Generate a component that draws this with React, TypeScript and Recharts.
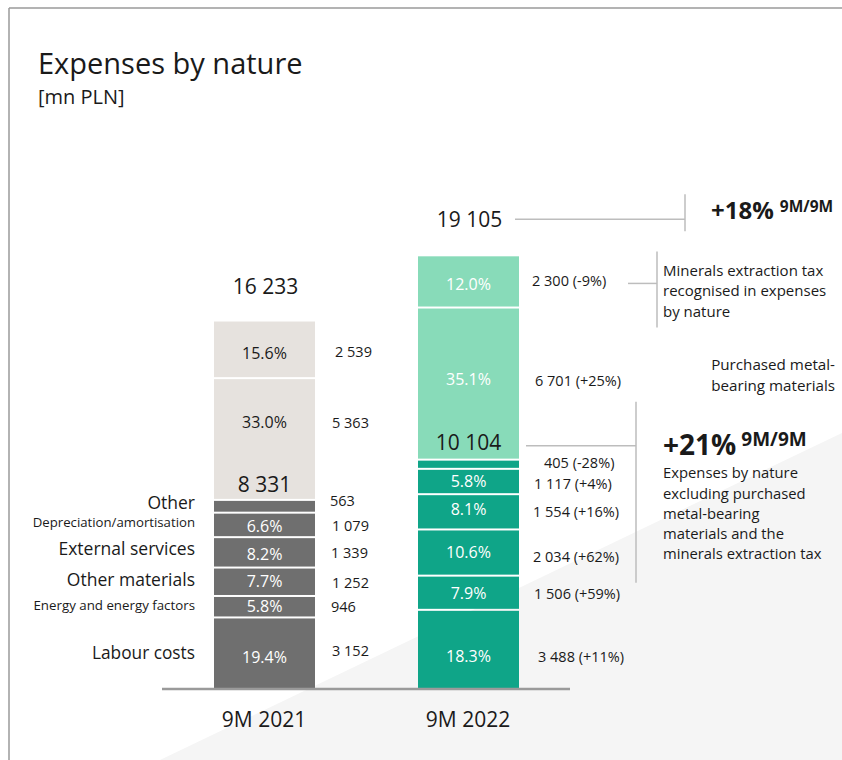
import React from 'react';
import { BarChart, Bar, XAxis, YAxis } from 'recharts';

const FONT = "'Open Sans', 'Noto Sans', sans-serif";

// ---------- data ----------
const categories = ['9M 2021', '9M 2022'];
const labourCosts = [3152, 3488];
const energyCosts = [946, 1506];
const otherMaterials = [1252, 2034];
const externalServices = [1339, 1554];
const depreciation = [1079, 1117];
const otherCosts = [563, 405];
const metalBearing = [5363, 6701];
const extractionTax = [2539, 2300];

const labourShare = ['19.4%', '18.3%'];
const energyShare = ['5.8%', '7.9%'];
const otherMaterialsShare = ['7.7%', '10.6%'];
const externalServicesShare = ['8.2%', '8.1%'];
const depreciationShare = ['6.6%', '5.8%'];
const otherShare = ['', ''];
const metalBearingShare = ['33.0%', '35.1%'];
const extractionTaxShare = ['15.6%', '12.0%'];

const labourChange = ['', '+11%'];
const energyChange = ['', '+59%'];
const otherMaterialsChange = ['', '+62%'];
const externalServicesChange = ['', '+16%'];
const depreciationChange = ['', '+4%'];
const otherChange = ['', '-28%'];
const metalBearingChange = ['', '+25%'];
const extractionTaxChange = ['', '-9%'];

const coreTotals = [8331, 10104];
const grandTotals = [16233, 19105];
const grandTotalChange = '+18%';
const coreTotalChange = '+21%';
const periodLabel = '9M/9M';

const taxNote = ['Minerals extraction tax', 'recognised in expenses', 'by nature'];
const metalNote = ['Purchased metal-', 'bearing materials'];
const coreNote = [
  'Expenses by nature',
  'excluding purchased',
  'metal-bearing',
  'materials and the',
  'minerals extraction tax',
];

const SERIES = [
  { key: 'labour', name: 'Labour costs', values: labourCosts, shares: labourShare, changes: labourChange, core: true },
  { key: 'energy', name: 'Energy and energy factors', values: energyCosts, shares: energyShare, changes: energyChange, core: true },
  { key: 'otherMaterials', name: 'Other materials', values: otherMaterials, shares: otherMaterialsShare, changes: otherMaterialsChange, core: true },
  { key: 'externalServices', name: 'External services', values: externalServices, shares: externalServicesShare, changes: externalServicesChange, core: true },
  { key: 'depreciation', name: 'Depreciation/amortisation', values: depreciation, shares: depreciationShare, changes: depreciationChange, core: true },
  { key: 'other', name: 'Other', values: otherCosts, shares: otherShare, changes: otherChange, core: true },
  { key: 'metal', name: 'Purchased metal-bearing materials', values: metalBearing, shares: metalBearingShare, changes: metalBearingChange, core: false },
  { key: 'tax', name: 'Minerals extraction tax', values: extractionTax, shares: extractionTaxShare, changes: extractionTaxChange, core: false },
];

const data = categories.map((name, i) => {
  const row: any = { name };
  SERIES.forEach((s) => {
    row[s.key] = s.values[i];
  });
  return row;
});

// ---------- styles ----------
const GRAY = '#6f6f6f';
const BEIGE = '#e6e2de';
const TEAL = '#0fa588';
const MINT = '#88dbb9';
const INK = '#1a1a1a';
const RULE = '#bdbdbd';

const STYLE: Record<string, any> = {
  labour: { nameSize: 17.3, nameDy: 0, pctDy: [4, 7], valDy: [-2, 8], valDx: [17, 19] },
  energy: { nameSize: 13.3, nameDy: -1.5, pctDy: [0, 1], valDy: [0, 1], valDx: [16, 15] },
  otherMaterials: { nameSize: 17.5, nameDy: -1.5, pctDy: [0, 0], valDy: [1, 4], valDx: [17, 14] },
  externalServices: { nameSize: 17.5, nameDy: -3, pctDy: [2, -2], valDy: [1, 0], valDx: [16, 14] },
  depreciation: { nameSize: 13.2, nameDy: -3, pctDy: [1, 0], valDy: [1, 2], valDx: [17, 15] },
  other: { nameSize: 17.5, nameDy: -3, pctDy: [0, 0], valDy: [-5, -1], valDx: [15, 25] },
  metal: { pctDy: [-17, -4], valDy: [-16, -3], valDx: [17, 16] },
  tax: { pctDy: [4, 3], valDy: [3, 0], valDx: [20, 13] },
};

const fmt = (v: number) => String(v).replace(/\B(?=(\d{3})+(?!\d))/g, ' ');

const makeShape = (s: any) => (props: any) => {
  const { x, y, width, height } = props;
  let i = categories.indexOf(props.payload?.name);
  if (i < 0) i = props.index ?? 0;
  const st = STYLE[s.key];
  const isBottom = s.key === 'labour';
  const fill = i === 0 ? (s.core ? GRAY : BEIGE) : s.core ? TEAL : MINT;
  const pctColor = i === 0 && !s.core ? INK : '#ffffff';
  const cx = x + width / 2;
  const cy = y + height / 2;
  const share = s.shares[i];
  const change = s.changes[i];
  const valText = fmt(s.values[i]) + (change ? ` (${change})` : '');
  const right = x + width;
  const out: any[] = [];

  out.push(
    <rect key="r" x={x} y={y + 1} width={width} height={Math.max(0, height - (isBottom ? 1 : 2))} fill={fill} />
  );
  if (share) {
    out.push(
      <text key="p" x={cx} y={cy + st.pctDy[i]} dy="0.35em" textAnchor="middle" fontSize={16} fill={pctColor} fontFamily={FONT}>
        {share}
      </text>
    );
  }
  out.push(
    <text key="v" x={right + st.valDx[i]} y={cy + st.valDy[i]} dy="0.35em" fontSize={14.5} fill={INK} fontFamily={FONT}>
      {valText}
    </text>
  );
  if (i === 0 && s.core) {
    out.push(
      <text key="n" x={x - 19} y={cy + st.nameDy} dy="0.35em" textAnchor="end" fontSize={st.nameSize} fill={INK} fontFamily={FONT}>
        {s.name}
      </text>
    );
  }
  if (s.key === 'metal') {
    const coreTop = y + height;
    out.push(
      <text key="sub" x={cx} y={coreTop - (i === 0 ? 15 : 16.5)} dy="0.35em" textAnchor="middle" fontSize={21} fill={INK} fontFamily={FONT}>
        {fmt(coreTotals[i])}
      </text>
    );
    if (i === 1) {
      const bx = right + 117;
      const tx = right + 144;
      out.push(<line key="h1" x1={right + 7} x2={bx} y1={coreTop - 14} y2={coreTop - 14} stroke={RULE} strokeWidth={1.5} />);
      out.push(<line key="v1" x1={bx} x2={bx} y1={coreTop - 58} y2={coreTop + 123} stroke={RULE} strokeWidth={1.5} />);
      out.push(
        <text key="c21" x={tx} y={coreTop - 5} fill={INK} fontFamily={FONT} fontWeight={700}>
          <tspan fontSize={28}>{coreTotalChange}</tspan>
          <tspan fontSize={19} dx={5} dy={-9}>{periodLabel}</tspan>
        </text>
      );
      coreNote.forEach((line, k) => {
        out.push(
          <text key={'cn' + k} x={tx} y={coreTop + 13.5 + k * 20.2} dy="0.35em" fontSize={14.8} fill={INK} fontFamily={FONT}>
            {line}
          </text>
        );
      });
      metalNote.forEach((line, k) => {
        out.push(
          <text key={'mn' + k} x={835} y={cy - 19 + k * 20.8} dy="0.35em" textAnchor="end" fontSize={15.2} fill={INK} fontFamily={FONT}>
            {line}
          </text>
        );
      });
    }
  }
  if (s.key === 'tax') {
    const ty = y - (i === 0 ? 34 : 36);
    out.push(
      <text key="tot" x={cx + 1} y={ty} dy="0.35em" textAnchor="middle" fontSize={21} fill={INK} fontFamily={FONT}>
        {fmt(grandTotals[i])}
      </text>
    );
    if (i === 1) {
      out.push(<line key="h2" x1={right - 4} x2={right + 166} y1={ty} y2={ty} stroke={RULE} strokeWidth={1.5} />);
      out.push(<line key="v2" x1={right + 166} x2={right + 166} y1={ty - 25} y2={ty + 12} stroke={RULE} strokeWidth={1.5} />);
      out.push(
        <text key="c18" x={right + 192} y={ty} fill={INK} fontFamily={FONT} fontWeight={700}>
          <tspan fontSize={24}>{grandTotalChange}</tspan>
          <tspan fontSize={15.5} dx={6} dy={-7}>{periodLabel}</tspan>
        </text>
      );
      const hy = cy + 2;
      out.push(<line key="h3" x1={right + 109} x2={right + 138} y1={hy} y2={hy} stroke={RULE} strokeWidth={1.5} />);
      out.push(<line key="v3" x1={right + 138} x2={right + 138} y1={cy - 30} y2={cy + 46} stroke={RULE} strokeWidth={1.5} />);
      taxNote.forEach((line, k) => {
        out.push(
          <text key={'tn' + k} x={right + 144} y={cy - 11 + k * 20.5} dy="0.35em" fontSize={15} fill={INK} fontFamily={FONT}>
            {line}
          </text>
        );
      });
    }
  }
  return <g>{out}</g>;
};

const renderTick = (p: any) => (
  <text x={p.x} y={p.y + 31} dy="0.35em" textAnchor="middle" fontSize={21} fill={INK} fontFamily={FONT}>
    {p.payload?.value}
  </text>
);

export default function App() {
  return (
    <div style={{ position: 'absolute', left: 0, top: 0, width: 842, height: 760, background: '#ffffff', overflow: 'hidden' }}>
      <svg width={842} height={760} style={{ position: 'absolute', left: 0, top: 0 }}>
        <polygon points="160,760 842,433 842,760" fill="#f5f5f5" />
        <line x1={9} x2={842} y1={8} y2={8} stroke="#9a9a9a" strokeWidth={1.5} />
        <line x1={9} x2={9} y1={8} y2={760} stroke="#9a9a9a" strokeWidth={1.5} />
        <text x={38} y={74} fontSize={29} fill={INK} fontFamily={FONT}>
          Expenses by nature
        </text>
        <text x={38} y={104} fontSize={20} fill={INK} fontFamily={FONT}>
          [mn PLN]
        </text>
      </svg>
      <div style={{ position: 'absolute', left: 0, top: 0 }}>
        <BarChart
          width={842}
          height={760}
          data={data}
          margin={{ top: 235, right: 272, bottom: 41, left: 162 }}
          barSize={101}
        >
          <XAxis
            dataKey="name"
            axisLine={{ stroke: '#9a9a9a', strokeWidth: 2.5 }}
            tickLine={false}
            tickSize={0}
            tickMargin={0}
            height={30}
            tick={renderTick}
            interval={0}
          />
          <YAxis hide domain={[0, 20000]} />
          {SERIES.map((s) => (
            <Bar key={s.key} dataKey={s.key} stackId="a" isAnimationActive={false} shape={makeShape(s)} />
          ))}
        </BarChart>
      </div>
    </div>
  );
}
